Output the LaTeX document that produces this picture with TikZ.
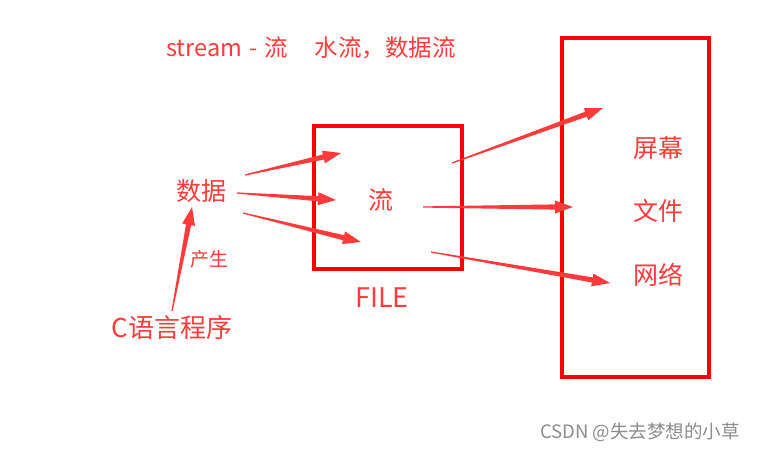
\documentclass[tikz,border=0pt]{standalone}
\usepackage{fontspec}
\setmainfont{Noto Sans CJK SC}
\usetikzlibrary{calc}
\definecolor{txtred}{HTML}{FF3B3B}
\definecolor{boxred}{HTML}{FF0000}
\definecolor{arrred}{HTML}{FF3A3A}
\newcommand\tarrow[2]{%
  \coordinate (hb) at ($(#2)!18pt!(#1)$);
  \fill[arrred] ($(#1)!0.6pt!90:(#2)$) -- ($(hb)!2.6pt!-90:(#1)$) -- ($(hb)!6.5pt!-90:(#1)$) -- (#2)
     -- ($(hb)!6.5pt!90:(#1)$) -- ($(hb)!2.6pt!90:(#1)$) -- ($(#1)!0.6pt!-90:(#2)$) -- cycle;}
\tikzset{
  lbl/.style={text=txtred, inner sep=0pt, font=\fontsize{25}{28}\selectfont},
  frame/.style={draw=boxred, line width=4pt},
}
\begin{document}
\begin{tikzpicture}[x=1pt,y=-1pt]
\useasboundingbox[fill=white] (0,0) rectangle (761,451);
\draw[frame] (314,126) rectangle (462,269);
\draw[frame] (562,38) rectangle (709,377);
\node[lbl, anchor=west, font=\fontsize{23.5}{26}\selectfont] (title) at (166,48) {stream\hspace{0.3em}-\hspace{0.3em}流\hspace{1.15em}水流，数据流};
\node[lbl] (data) at (201,191) {数据};
\node[lbl, font=\fontsize{19}{22}\selectfont] (gen) at (209,259) {产生};
\node[lbl, font=\fontsize{26}{30}\selectfont] (prog) at (172,328) {C语言程序};
\node[lbl] (liu) at (381,200) {流};
\node[lbl, font=\fontsize{27}{30}\selectfont] (file) at (382,298) {FILE};
\node[lbl] (scr) at (658,148) {屏幕};
\node[lbl] (fil) at (658,211) {文件};
\node[lbl] (net) at (658,275) {网络};
\node[text=black!45, inner sep=0pt, font=\fontsize{18.5}{22}\selectfont] (wm) at (640,432) {CSDN @失去梦想的小草};
\coordinate (a1s) at (245,175); \coordinate (a1e) at (341,153);
\coordinate (a2s) at (237,193); \coordinate (a2e) at (336,200);
\coordinate (a3s) at (243,213); \coordinate (a3e) at (361,242);
\coordinate (a4s) at (172,311); \coordinate (a4e) at (192,207);
\coordinate (a5s) at (452,163); \coordinate (a5e) at (603,108);
\coordinate (a6s) at (423,207); \coordinate (a6e) at (573,207);
\coordinate (a7s) at (431,252); \coordinate (a7e) at (610,283);
\tarrow{a1s}{a1e}
\tarrow{a2s}{a2e}
\tarrow{a3s}{a3e}
\tarrow{a4s}{a4e}
\tarrow{a5s}{a5e}
\tarrow{a6s}{a6e}
\tarrow{a7s}{a7e}
\end{tikzpicture}
\end{document}
